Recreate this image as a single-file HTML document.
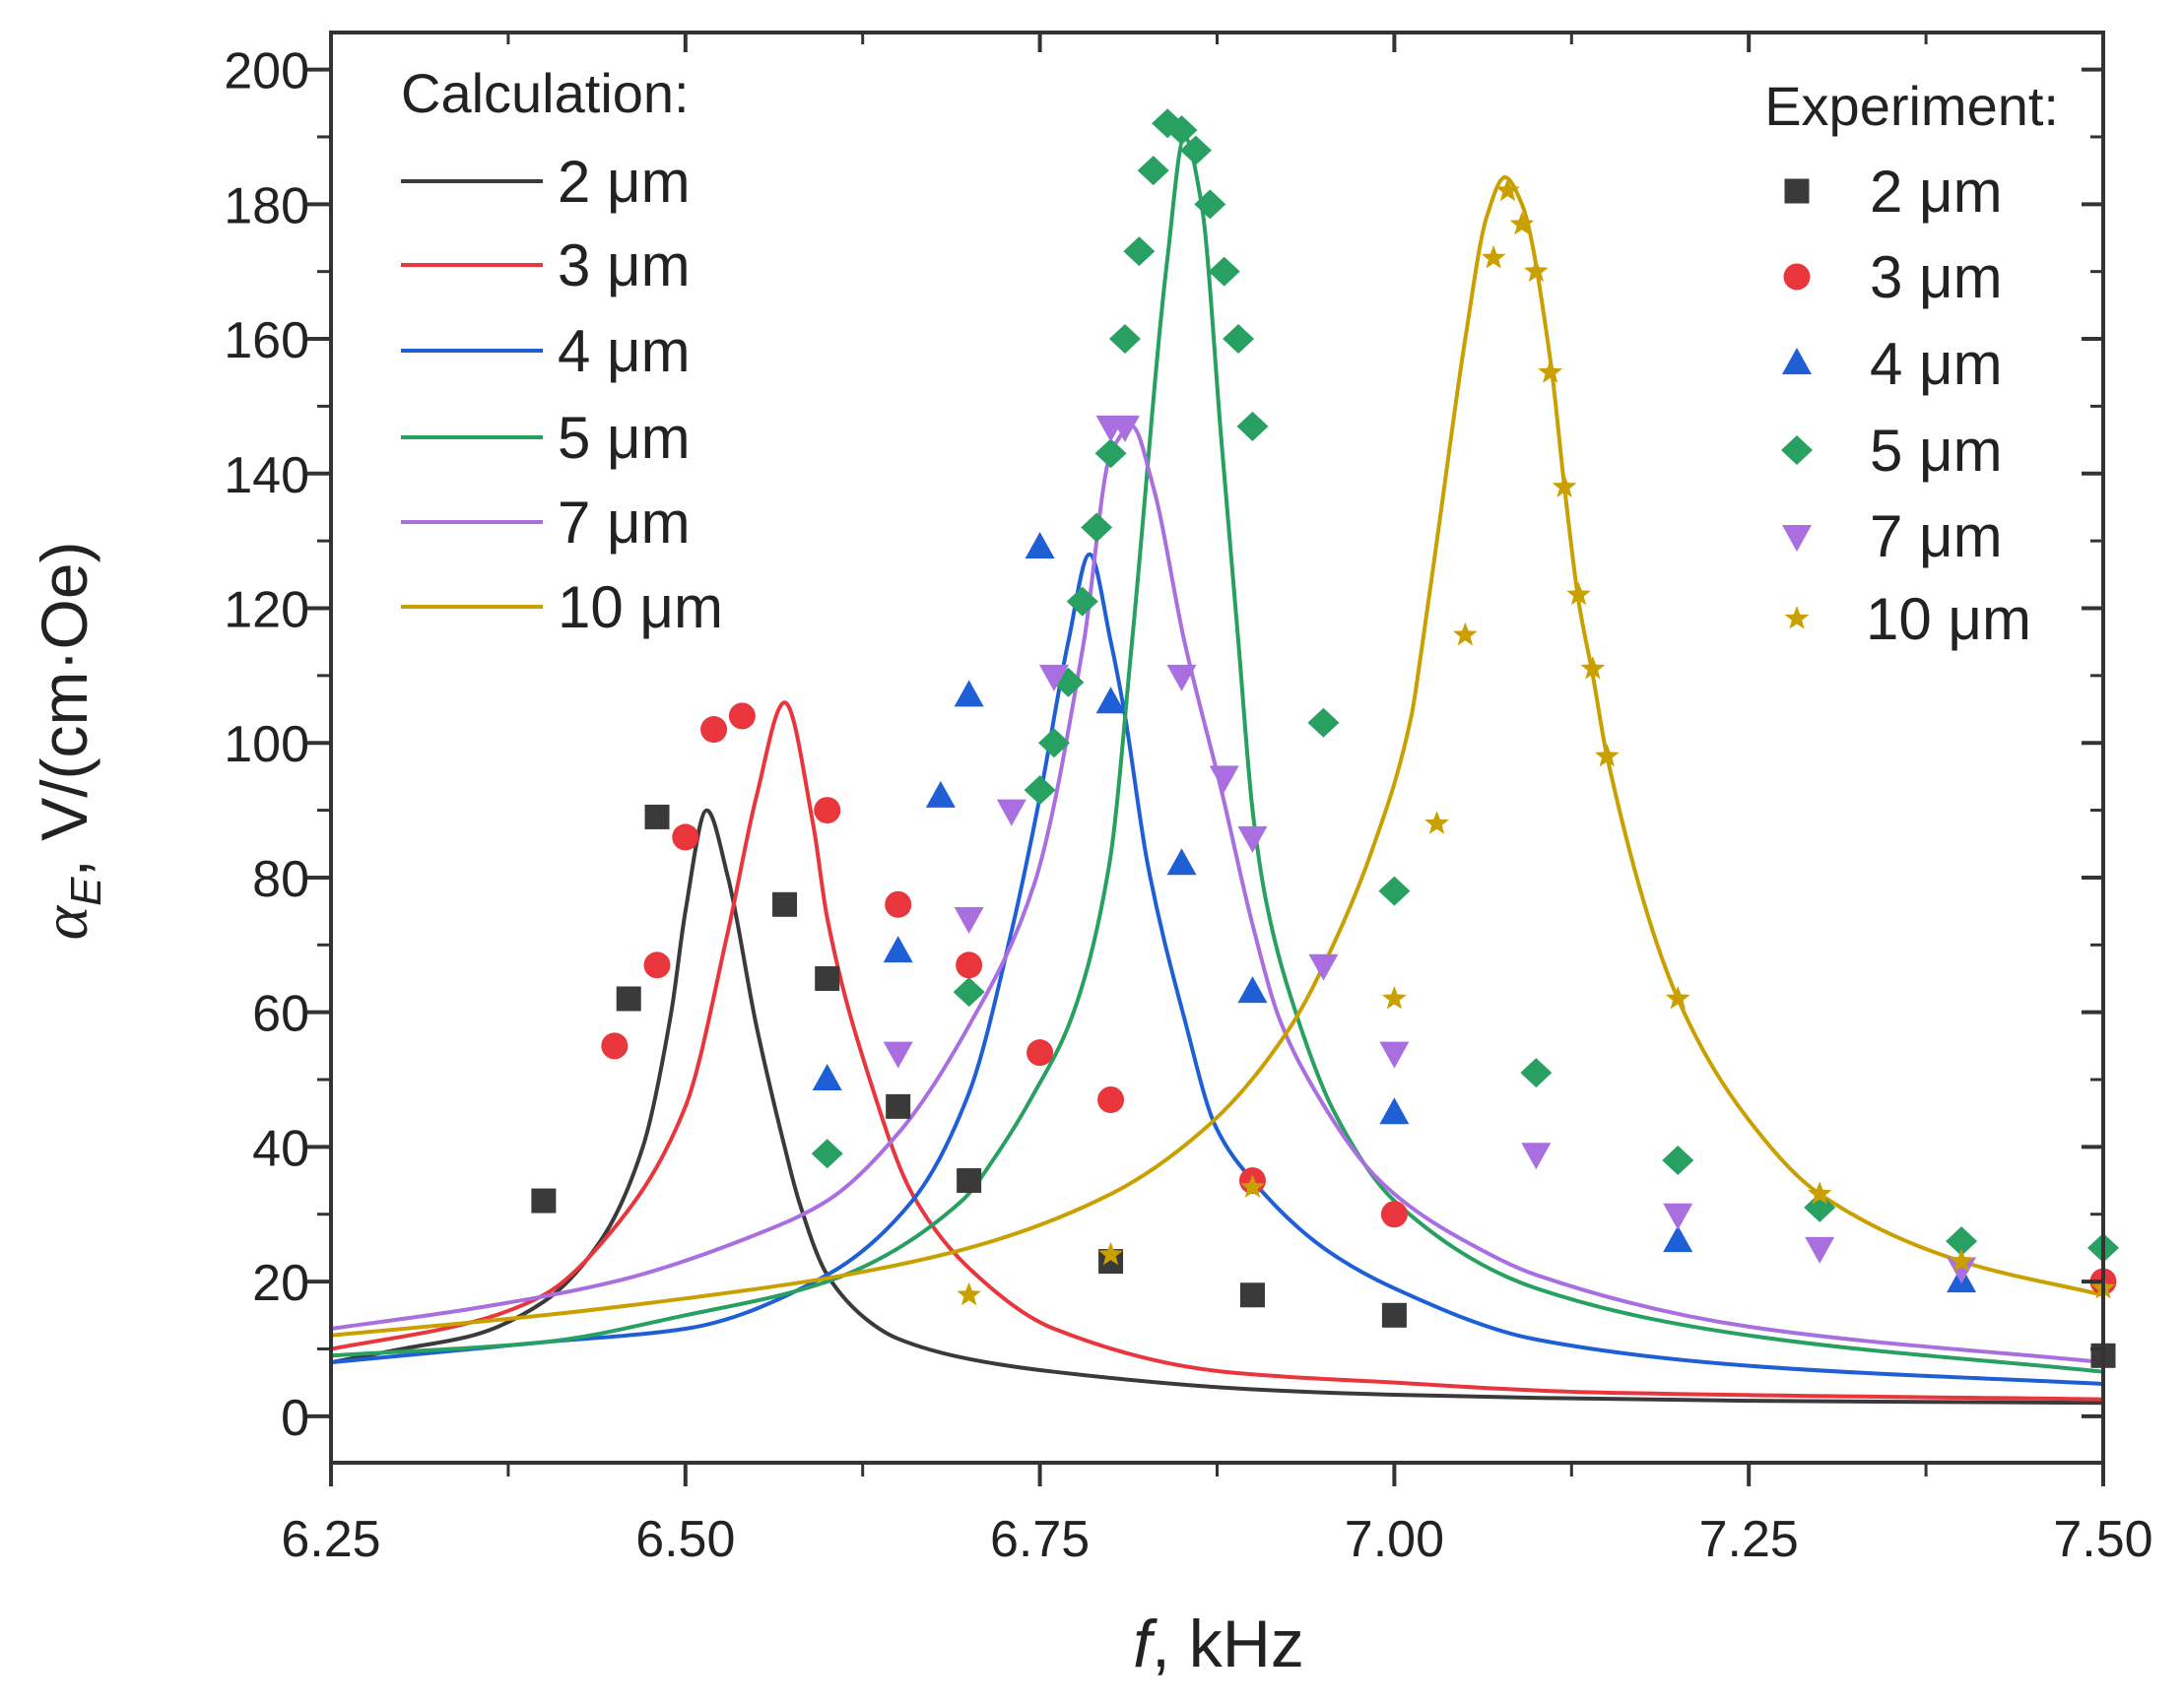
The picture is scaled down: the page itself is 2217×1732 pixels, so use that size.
<!DOCTYPE html>
<html><head><meta charset="utf-8"><style>
html,body{margin:0;padding:0;background:#fff}
svg{display:block}
text{font-family:"Liberation Sans",Arial,sans-serif;fill:#222}
</style></head><body>
<svg id="chart" width="2217" height="1732" viewBox="0 0 2217 1732" xmlns="http://www.w3.org/2000/svg">
<g id="curves"></g>
<g id="points"></g>
<g id="axes"></g>
<g id="legend"></g>
</svg>
<script>
// ---- data ----
const xTicks = [6.25, 6.50, 6.75, 7.00, 7.25, 7.50];
const xTickLabels = ["6.25", "6.50", "6.75", "7.00", "7.25", "7.50"];
const yTicks = [0, 20, 40, 60, 80, 100, 120, 140, 160, 180, 200];
const seriesNames = ["2 μm", "3 μm", "4 μm", "5 μm", "7 μm", "10 μm"];
const seriesColors = ["#3a3a3a", "#e8363c", "#1f5fd6", "#27a062", "#a96fe0", "#c9a000"];

// calculation curves (f in kHz, value in V/(cm·Oe))
const calc2f = [6.25,6.30,6.35,6.40,6.44,6.47,6.49,6.50,6.515,6.53,6.55,6.57,6.58,6.60,6.63,6.65,6.70,6.76,6.90,7.00,7.25,7.50];
const calc2v = [8,10,12,17,26,40,60,75,90,80,58,40,32,21,14,11.5,8.5,6.6,4,3.2,2.3,2];
const calc3f = [6.25,6.35,6.40,6.45,6.50,6.53,6.55,6.57,6.59,6.60,6.63,6.66,6.70,6.76,6.88,7.00,7.13,7.50];
const calc3v = [10,14,18,28,46,72,92,106,88,74,50,33,22,13,6.6,5,3.6,2.5];
const calc4f = [6.25,6.40,6.50,6.60,6.66,6.70,6.73,6.75,6.77,6.785,6.80,6.81,6.826,6.852,6.874,6.90,6.95,7.00,7.10,7.25,7.50];
const calc4v = [8,11,13,21,32,48,72,92,115,128,115,104,82,59,43,35,25,19,11.4,7.5,4.8];
const calc5f = [6.25,6.40,6.50,6.60,6.695,6.72,6.746,6.772,6.799,6.815,6.84,6.852,6.864,6.878,6.89,6.90,6.91,6.932,6.958,7.00,7.10,7.25,7.50];
const calc5v = [9,11,15,20,32,39,48,59,82,115,172,190,180,145,115,90,76,59,45,32,19,12,6.6];
const calc7f = [6.25,6.35,6.45,6.55,6.60,6.65,6.70,6.746,6.781,6.80,6.815,6.83,6.852,6.878,6.90,6.919,6.945,6.985,7.012,7.05,7.10,7.25,7.50];
const calc7v = [13,16,20,27,32,42,58,79,115,143,147,138,115,93,73,59,48,36,31,26,21,13.3,8];
const calc10f = [6.25,6.40,6.50,6.60,6.70,6.80,6.871,6.926,6.958,6.985,7.012,7.02,7.03,7.05,7.065,7.078,7.09,7.11,7.12,7.13,7.14,7.15,7.20,7.25,7.30,7.40,7.50];
const calc10v = [12,15,17.5,20.5,25,33,43.6,57.6,70.5,84.5,104,115,130,160,178,184,180,157,138,121,110,98,62,44,33,23,18];

// experiment points
const exp2f = [6.40,6.46,6.48,6.57,6.60,6.65,6.70,6.80,6.90,7.00,7.50];
const exp2v = [32,62,89,76,65,46,35,23,18,15,9];
const exp3f = [6.45,6.48,6.50,6.52,6.54,6.60,6.65,6.70,6.75,6.80,6.90,7.00,7.50];
const exp3v = [55,67,86,102,104,90,76,67,54,47,35,30,20];
const exp4f = [6.60,6.65,6.68,6.70,6.75,6.80,6.85,6.90,7.00,7.20,7.40];
const exp4v = [50,69,92,107,129,106,82,63,45,26,20];
const exp5f = [6.60,6.70,6.75,6.76,6.77,6.78,6.79,6.80,6.81,6.82,6.83,6.84,6.85,6.86,6.87,6.88,6.89,6.90,6.95,7.00,7.10,7.20,7.30,7.40,7.50];
const exp5v = [39,63,93,100,109,121,132,143,160,173,185,192,191,188,180,170,160,147,103,78,51,38,31,26,25];
const exp7f = [6.65,6.70,6.73,6.76,6.80,6.81,6.85,6.88,6.90,6.95,7.00,7.10,7.20,7.30,7.40];
const exp7v = [54,74,90,110,147,147,110,95,86,67,54,39,30,25,22];
const exp10f = [6.70,6.80,6.90,7.00,7.03,7.05,7.07,7.08,7.09,7.10,7.11,7.12,7.13,7.14,7.15,7.20,7.30,7.40,7.50];
const exp10v = [18,24,34,62,88,116,172,182,177,170,155,138,122,111,98,62,33,23,19];

// ---- layout ----
const L = 336, R = 2135, T = 33, B = 1485;
const fMin = 6.25, fMax = 7.50, vMin = -6.9, vMax = 205.5;
function X(f){ return L + (f - fMin) / (fMax - fMin) * (R - L); }
function Y(v){ return B - (v - vMin) / (vMax - vMin) * (B - T); }
const NS = "http://www.w3.org/2000/svg";
function mk(tag, attrs, parent){
  const e = document.createElementNS(NS, tag);
  for (const k in attrs) e.setAttribute(k, attrs[k]);
  parent.appendChild(e); return e;
}
const svg = document.getElementById('chart');
const gC = document.getElementById('curves'), gP = document.getElementById('points'),
      gA = document.getElementById('axes'), gL = document.getElementById('legend');

const defs = mk('defs', {}, svg);
const cp = mk('clipPath', {id:'plotclip'}, defs);
mk('rect', {x:L, y:T, width:R-L, height:B-T}, cp);
gC.setAttribute('clip-path', 'url(#plotclip)');

// Fritsch–Carlson monotone cubic in x
function splinePath(fs, vs){
  const p = fs.map((f,i)=>[X(f), Y(vs[i])]);
  const n = p.length, d = [], m = new Array(n);
  for (let i=0;i<n-1;i++) d.push((p[i+1][1]-p[i][1])/(p[i+1][0]-p[i][0]));
  m[0]=d[0]; m[n-1]=d[n-2];
  for (let i=1;i<n-1;i++){
    if (d[i-1]*d[i] <= 0) m[i]=0;
    else { const h0=p[i][0]-p[i-1][0], h1=p[i+1][0]-p[i][0];
      const w1=2*h1+h0, w2=h1+2*h0; m[i]=(w1+w2)/(w1/d[i-1]+w2/d[i]); }
  }
  let s = 'M' + p[0][0].toFixed(1) + ',' + p[0][1].toFixed(1);
  for (let i=0;i<n-1;i++){
    const h = (p[i+1][0]-p[i][0])/3;
    s += ' C'+(p[i][0]+h).toFixed(1)+','+(p[i][1]+m[i]*h).toFixed(1)+' '+(p[i+1][0]-h).toFixed(1)+','+(p[i+1][1]-m[i+1]*h).toFixed(1)+' '+p[i+1][0].toFixed(1)+','+p[i+1][1].toFixed(1);
  }
  return s;
}
const calcF = [calc2f, calc3f, calc4f, calc5f, calc7f, calc10f];
const calcV = [calc2v, calc3v, calc4v, calc5v, calc7v, calc10v];
const curveNames = ['curve-2um','curve-3um','curve-4um','curve-5um','curve-7um','curve-10um'];
for (let s=0;s<6;s++){
  const path = mk('path', {d: splinePath(calcF[s], calcV[s]), fill:'none', stroke:seriesColors[s], 'stroke-width':4, 'stroke-linejoin':'round'}, gC);
  
  
}

function marker(kind, x, y, color, parent){
  let e;
  if (kind===0) e = mk('rect', {x:x-12.5, y:y-12.5, width:25, height:25, fill:color}, parent);
  else if (kind===1) e = mk('circle', {cx:x, cy:y, r:13.5, fill:color}, parent);
  else if (kind===2) e = mk('polygon', {points:`${x},${y-16} ${x+15},${y+11} ${x-15},${y+11}`, fill:color}, parent);
  else if (kind===3) e = mk('polygon', {points:`${x},${y-15} ${x+16},${y} ${x},${y+15} ${x-16},${y}`, fill:color}, parent);
  else if (kind===4) e = mk('polygon', {points:`${x},${y+16} ${x+15},${y-11} ${x-15},${y-11}`, fill:color}, parent);
  else {
    let pts=[]; for(let k=0;k<10;k++){const a=-Math.PI/2+k*Math.PI/5, r=k%2?5.5:13; pts.push((x+r*Math.cos(a)).toFixed(1)+','+(y+r*Math.sin(a)).toFixed(1));}
    e = mk('polygon', {points:pts.join(' '), fill:color}, parent);
  }
  return e;
}
const expF = [exp2f, exp3f, exp4f, exp5f, exp7f, exp10f];
const expV = [exp2v, exp3v, exp4v, exp5v, exp7v, exp10v];
const ptNames = ['point-2um','point-3um','point-4um','point-5um','point-7um','point-10um'];
for (let s=0;s<6;s++){
  for (let i=0;i<expF[s].length;i++){
    const e = marker(s, X(expF[s][i]), Y(expV[s][i]), seriesColors[s], gP);
    
    
  }
}

// axes
const frame = mk('rect', {x:L, y:T, width:R-L, height:B-T, fill:'none', stroke:'#333', 'stroke-width':4}, gA);


for (let i=0;i<xTicks.length;i++){
  const x = X(xTicks[i]);
  mk('line', {x1:x, y1:B, x2:x, y2:B+24, stroke:'#333', 'stroke-width':4}, gA);
  mk('line', {x1:x, y1:T, x2:x, y2:T+20, stroke:'#333', 'stroke-width':4}, gA);
  const t = mk('text', {x:x, y:1580, 'text-anchor':'middle', 'font-size':52}, gA);
  t.textContent = xTickLabels[i];
  
  
  if (i < xTicks.length-1){
    const xm = X((xTicks[i]+xTicks[i+1])/2);
    mk('line', {x1:xm, y1:B, x2:xm, y2:B+14, stroke:'#333', 'stroke-width':3}, gA);
    mk('line', {x1:xm, y1:T, x2:xm, y2:T+12, stroke:'#333', 'stroke-width':3}, gA);
  }
}
for (let i=0;i<yTicks.length;i++){
  const y = Y(yTicks[i]);
  mk('line', {x1:L-24, y1:y, x2:L, y2:y, stroke:'#333', 'stroke-width':4}, gA);
  mk('line', {x1:R-22, y1:y, x2:R, y2:y, stroke:'#333', 'stroke-width':4}, gA);
  const t = mk('text', {x:314, y:y+19, 'text-anchor':'end', 'font-size':52}, gA);
  t.textContent = String(yTicks[i]);
  
  
  if (i < yTicks.length-1){
    const ym = Y(yTicks[i]+10);
    mk('line', {x1:L-14, y1:ym, x2:L, y2:ym, stroke:'#333', 'stroke-width':3}, gA);
    mk('line', {x1:R-13, y1:ym, x2:R, y2:ym, stroke:'#333', 'stroke-width':3}, gA);
  }
}
const xt = mk('text', {x:1237, y:1692, 'text-anchor':'middle', 'font-size':68}, gA);
xt.innerHTML = '<tspan font-style="italic">f</tspan>, kHz';


const yt = mk('text', {x:0, y:0, 'text-anchor':'middle', 'font-size':66, transform:'translate(88,752) rotate(-90)'}, gA);
yt.innerHTML = '<tspan font-style="italic" font-family="Liberation Serif, serif">α</tspan><tspan font-style="italic" font-size="44" dy="14">E</tspan><tspan dy="-14">, V/(cm·Oe)</tspan>';



// legends
const lc = mk('text', {x:407, y:114, 'font-size':56}, gL);
lc.textContent = 'Calculation:';


const le = mk('text', {x:2090, y:127, 'font-size':56, 'text-anchor':'end'}, gL);
le.textContent = 'Experiment:';


const calcRows = [184, 269, 356, 444, 530, 616];
const expRows = [194, 281, 369, 457, 544, 628];
for (let s=0;s<6;s++){
  const ln = mk('line', {x1:407, y1:calcRows[s], x2:551, y2:calcRows[s], stroke:seriesColors[s], 'stroke-width':4}, gL);
  
  
  const t = mk('text', {x:566, y:calcRows[s]+21, 'font-size':60}, gL);
  t.textContent = seriesNames[s];
  
  
  const m = marker(s, 1824, expRows[s], seriesColors[s], gL);
  
  
  const t2 = mk('text', {x:1898 + (s===5?-4:0), y:expRows[s]+21, 'font-size':60}, gL);
  t2.textContent = seriesNames[s];
  
  
}
</script>
</body></html>
